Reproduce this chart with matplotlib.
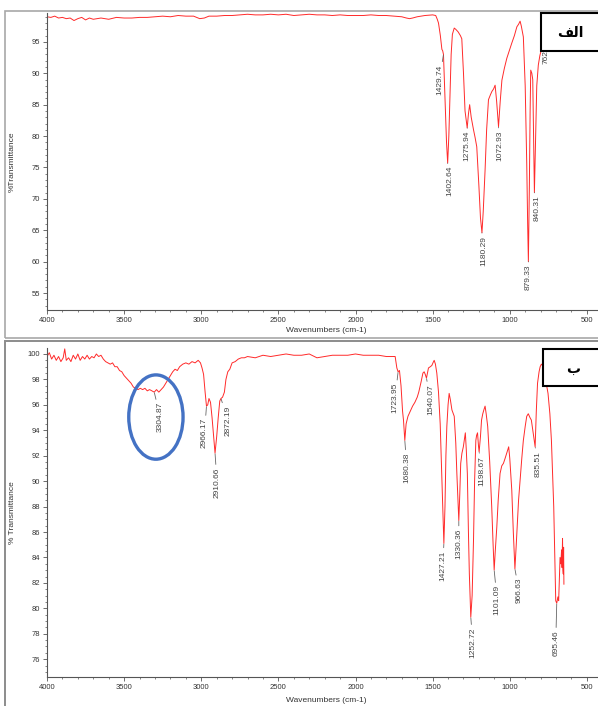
import numpy as np
import matplotlib
matplotlib.use("Agg")
import matplotlib.pyplot as plt
from matplotlib.patches import Rectangle, Ellipse
from matplotlib.ticker import MultipleLocator

plt.rcParams['font.family'] = ['Liberation Sans', 'DejaVu Sans']

# ---- spectrum (a): wavenumber (cm-1) / %T
top_wn = [4000, 3975, 3950, 3925, 3900, 3875, 3850, 3825, 3800, 3775, 3750, 3725,
          3700, 3675, 3650, 3600, 3550, 3500, 3450, 3400, 3350, 3300, 3250, 3200,
          3150, 3100, 3050, 3010, 2980, 2950, 2900, 2850, 2800, 2750, 2700, 2650,
          2600, 2550, 2500, 2450, 2400, 2350, 2300, 2250, 2200, 2150, 2100, 2050,
          2000, 1950, 1900, 1850, 1800, 1750, 1700, 1670, 1650, 1630, 1600, 1550,
          1500, 1480, 1470, 1462, 1450, 1440, 1435, 1429.74, 1420, 1410, 1402.64,
          1395, 1388, 1380, 1372, 1360, 1350, 1335, 1320, 1311, 1300, 1290, 1275.94,
          1268, 1260, 1250, 1235, 1225, 1214, 1200, 1190, 1180.29, 1172, 1160, 1150,
          1138, 1125, 1116, 1105, 1095, 1085, 1072.93, 1062, 1051, 1035, 1019, 1003,
          987, 970, 954, 943, 933, 925, 912, 900, 890, 884, 879.33, 873, 868, 864,
          857, 851, 846, 840.31, 834, 825, 815, 805, 793, 780, 770, 762.13, 750, 730,
          700, 650, 600, 550, 500, 450, 428]
top_t = [99.0, 98.9, 99.1, 98.8, 98.9, 98.7, 98.8, 98.4, 98.7, 98.9, 98.5, 98.8,
         98.6, 98.7, 98.8, 98.6, 98.9, 98.8, 98.8, 98.9, 98.9, 99.0, 99.1, 99.0,
         99.2, 99.1, 99.1, 98.7, 98.8, 99.1, 99.1, 99.2, 99.2, 99.3, 99.4, 99.3,
         99.3, 99.4, 99.3, 99.4, 99.2, 99.3, 99.4, 99.3, 99.3, 99.2, 99.3, 99.2,
         99.2, 99.2, 99.3, 99.2, 99.2, 99.1, 99.0, 98.8, 98.7, 98.8, 99.0, 99.2,
         99.3, 99.2, 98.6, 98.0, 96.0, 93.8, 93.6, 93.0, 86.0, 79.0, 75.7,
         80.0, 86.0, 93.0, 96.2, 97.2, 97.0, 96.6, 96.0, 95.5, 90.0, 84.0, 81.3,
         83.5, 85.0, 83.0, 81.0, 79.8, 78.3, 72.0, 67.0, 64.6, 68.0, 74.6, 81.0,
         85.8, 86.6, 87.1, 87.5, 88.1, 85.5, 81.5, 85.5, 88.9, 90.8, 92.4, 93.6,
         94.8, 96.0, 97.4, 97.8, 98.3, 97.5, 95.8, 88.0, 75.7, 66.0, 60.0, 72.0, 84.0, 90.5,
         90.0, 89.0, 80.0, 71.0, 78.0, 88.0, 91.3, 92.8, 94.0, 95.5, 96.3, 96.0, 97.5, 98.2,
         98.5, 98.6, 98.7, 98.6, 98.7, 98.6, 98.6]
top_peaks = [1429.74, 1402.64, 1275.94, 1180.29, 1072.93, 879.33, 840.31, 762.13]

# ---- spectrum (b)
bot_wn = [4000, 3985, 3970, 3955, 3940, 3925, 3910, 3895, 3885, 3875, 3860, 3845,
          3830, 3815, 3800, 3785, 3770, 3755, 3740, 3725, 3710, 3695, 3680, 3665,
          3650, 3635, 3620, 3605, 3590, 3575, 3560, 3545, 3530, 3515, 3500, 3485,
          3470, 3455, 3440, 3425, 3410, 3395, 3380, 3365, 3350, 3335, 3320, 3304.87,
          3290, 3275, 3260, 3245, 3230, 3215, 3200, 3185, 3170, 3155, 3140, 3120,
          3100, 3080, 3060, 3040, 3020, 3005, 2995, 2985, 2975, 2966.17, 2958, 2950,
          2940, 2930, 2920, 2910.66, 2900, 2890, 2880, 2872.19, 2862, 2850, 2840,
          2828, 2815, 2800, 2780, 2760, 2740, 2720, 2700, 2650, 2600, 2550, 2500,
          2450, 2400, 2350, 2300, 2250, 2200, 2150, 2100, 2050, 2000, 1950, 1900,
          1850, 1800, 1760, 1743, 1732, 1723.95, 1715, 1705, 1695, 1689, 1680.38,
          1672, 1660, 1645, 1630, 1615, 1600, 1590, 1575, 1563, 1555, 1548, 1540.07,
          1532, 1527, 1515, 1505, 1498, 1490, 1482, 1473, 1462, 1451, 1442, 1434,
          1427.21, 1420, 1414, 1408, 1400, 1393, 1385, 1375, 1360, 1350, 1343,
          1330.36, 1324, 1318, 1310, 1301, 1292, 1288, 1282, 1275, 1268, 1262,
          1252.72, 1244, 1235, 1228, 1220, 1215, 1209, 1203, 1198.67, 1190, 1183,
          1175, 1168, 1160, 1153, 1143, 1130, 1117, 1108, 1101.09, 1094, 1084, 1075,
          1063, 1052, 1041, 1030, 1020, 1007, 1000, 995, 987, 977, 966.63, 958, 951,
          943, 933, 922, 912, 900, 890, 880, 869, 860, 852, 844, 835.51, 828, 820,
          810, 803, 795, 788, 780, 771, 762, 752, 740, 730, 722, 715, 708, 702,
          695.46, 688, 683, 678, 674, 669, 664, 661, 658, 655, 653, 651, 649]
bot_t = [99.8, 100.1, 99.6, 99.9, 99.5, 99.8, 99.4, 99.7, 100.4, 99.5, 99.7, 99.4,
         99.9, 99.6, 100.0, 99.5, 99.8, 99.6, 99.9, 99.6, 99.8, 99.7, 100.0, 99.8,
         99.9, 99.6, 99.4, 99.3, 99.2, 99.3, 99.0, 99.0, 98.7, 98.6, 98.3, 98.1,
         97.9, 97.7, 97.4, 97.3, 97.2, 97.3, 97.2, 97.3, 97.1, 97.2, 97.1, 97.0,
         97.2, 97.0, 97.2, 97.4, 97.7, 98.0, 98.3, 98.6, 98.8, 98.7, 99.0, 99.2,
         99.3, 99.2, 99.4, 99.3, 99.5, 99.3, 98.9, 98.4, 97.0, 95.9, 96.0, 96.5,
         96.2, 95.0, 93.5, 92.2, 93.5, 95.0, 96.3, 96.5, 96.6, 97.0, 98.0,
         98.6, 98.8, 99.3, 99.4, 99.6, 99.7, 99.7, 99.8, 99.7, 99.9, 99.8, 99.9,
         100.0, 99.9, 99.9, 100.0, 99.7, 99.8, 99.9, 99.9, 99.9, 100.0, 99.9, 99.9,
         99.9, 99.8, 99.8, 99.8, 98.9, 98.6, 98.7, 97.5, 95.5, 94.8, 93.2,
         94.5, 95.1, 95.5, 95.9, 96.2, 96.6, 97.0, 97.8, 98.5, 98.6, 98.4, 98.1,
         98.6, 98.9, 99.0, 99.1, 99.3, 99.5, 99.2, 98.5, 97.0, 94.5, 91.0, 88.0,
         85.1, 88.0, 92.0, 94.3, 96.0, 96.9, 96.4, 95.6, 95.1, 93.0, 90.6,
         86.9, 89.0, 91.4, 92.2, 92.7, 93.5, 93.8, 92.5, 90.6, 86.0, 82.7,
         79.3, 81.0, 85.4, 90.0, 93.2, 93.6, 93.8, 92.8, 92.3, 93.5, 94.8,
         95.3, 95.6, 95.9, 95.3, 94.3, 91.5, 88.0, 85.0, 83.0, 84.5, 86.4, 88.5,
         90.6, 91.2, 91.4, 91.8, 92.2, 92.7, 91.8, 90.8, 89.3, 86.0, 83.1, 85.0, 86.7,
         88.5, 90.1, 91.8, 93.2, 94.3, 95.1, 95.3, 95.0, 94.8, 94.1, 93.4, 92.7, 95.5, 97.7,
         98.6, 99.0, 99.2, 99.1, 98.8, 98.2, 97.6, 96.9, 95.3, 93.2, 90.5, 88.0, 84.0, 80.6,
         80.4, 80.9, 80.6, 82.5, 84.0, 83.5, 84.6, 83.2, 85.5, 83.0, 82.7, 84.8, 81.9]
bot_peaks = [3304.87, 2966.17, 2910.66, 2872.19, 1723.95, 1680.38, 1540.07, 1427.21,
             1330.36, 1252.72, 1198.67, 1101.09, 966.63, 835.51, 695.46]

# label placement (pixel offsets from peak: dx, dy below)
top_offsets = [(-4, 10), (2.5, 3), (0, 3), (1.5, 3), (1.5, 4), (0, 3), (2.5, 3), (0, 3)]
bot_offsets = [(6, 10), (-2, 12), (2, 14), (7, 7), (-3, 11), (2, 12), (4, 6), (-1, 7),
               (0, 8), (2, 10), (3, 4), (3, 15), (4, 9), (3, 4), (-1, 27)]

W, H = 598, 706
LINE = '#ff2a2a'
TXT = '#333333'


def setup_axes(ax, ylim, ymaj, ymin, ylabel, xlab_y):
    ax.set_xlim(4000, 428)
    ax.set_ylim(*ylim)
    for s in ['top', 'right']:
        ax.spines[s].set_visible(False)
    for s in ['left', 'bottom']:
        ax.spines[s].set_color('#555555')
        ax.spines[s].set_linewidth(0.8)
    ax.xaxis.set_major_locator(MultipleLocator(500))
    ax.xaxis.set_minor_locator(MultipleLocator(100))
    ax.yaxis.set_major_locator(MultipleLocator(ymaj))
    ax.yaxis.set_minor_locator(MultipleLocator(ymin))
    ax.tick_params(which='major', direction='out', length=3, width=0.6,
                   labelsize=5.5, colors='#555555', labelcolor=TXT, pad=2)
    ax.tick_params(which='minor', direction='out', length=1.5, width=0.5, colors='#555555')
    ax.set_xlabel('Wavenumbers (cm-1)', fontsize=6, color=TXT)
    ax.xaxis.set_label_coords((326 - 47) / 551, xlab_y)
    ax.set_ylabel(ylabel, fontsize=6, color=TXT)
    ax.yaxis.set_label_coords(-0.057, 0.5)


def label_peaks(ax, wn, t, peaks, offsets):
    order = np.argsort(wn)
    xs = np.array(wn)[order]
    ys = np.array(t)[order]
    for p, (dx, dy) in zip(peaks, offsets):
        ty = np.interp(p, xs, ys)
        ax.annotate('%.2f' % p, xy=(p, ty), xytext=(dx, -dy), textcoords='offset pixels',
                    rotation=90, ha='center', va='top', fontsize=6, color='#444444',
                    arrowprops=dict(arrowstyle='-', color='#666666', lw=0.6,
                                    shrinkA=0, shrinkB=0.5))


fig = plt.figure(figsize=(W / 100, H / 100), dpi=100)

ax1 = fig.add_axes([47 / W, 1 - 310 / H, 551 / W, 297 / H])
ax1.plot(top_wn, top_t, color=LINE, lw=0.7)
setup_axes(ax1, (52.3, 99.6), 5, 1, '%Transmittance', -(327 - 310) / 297)
label_peaks(ax1, top_wn, top_t, top_peaks, top_offsets)

ax2 = fig.add_axes([47 / W, 1 - 677 / H, 551 / W, 329 / H])
ax2.plot(bot_wn, bot_t, color=LINE, lw=0.7)
setup_axes(ax2, (74.6, 100.47), 2, 0.5, '% Transmittance', -(697 - 677) / 329)
label_peaks(ax2, bot_wn, bot_t, bot_peaks, bot_offsets)

# blue ring around the O-H band
ax2.add_patch(Ellipse((3294, 95.04), width=352, height=6.63, fill=False,
                      ec='#4472c4', lw=2.4, zorder=4, clip_on=False))

# panel frames
fig.add_artist(Rectangle((5 / W, 1 - 338 / H), 1, 327 / H, transform=fig.transFigure,
                         fill=False, ec='#a8a8a8', lw=1.2))
fig.add_artist(Rectangle((5 / W, -0.05), 1, (706 - 341) / H + 0.05, transform=fig.transFigure,
                         fill=False, ec='#8c8c8c', lw=1.4))

# boxed panel letters
fig.add_artist(Rectangle((541 / W, 1 - 51 / H), 60 / W, 38 / H, transform=fig.transFigure,
                         fc='white', ec='black', lw=1.5, zorder=5))
fig.text(570 / W, 1 - 33 / H, '\ufed2\ufedf\ufe8d', fontsize=10, fontweight='bold',
         family=['DejaVu Sans'], ha='center', va='center', zorder=6)
fig.add_artist(Rectangle((543 / W, 1 - 386 / H), 60 / W, 37 / H, transform=fig.transFigure,
                         fc='white', ec='black', lw=1.5, zorder=5))
fig.text(573 / W, 1 - 369 / H, '\u0628', fontsize=10, fontweight='bold',
         family=['DejaVu Sans'], ha='center', va='center', zorder=6)

fig.savefig('out.png', dpi=100)
